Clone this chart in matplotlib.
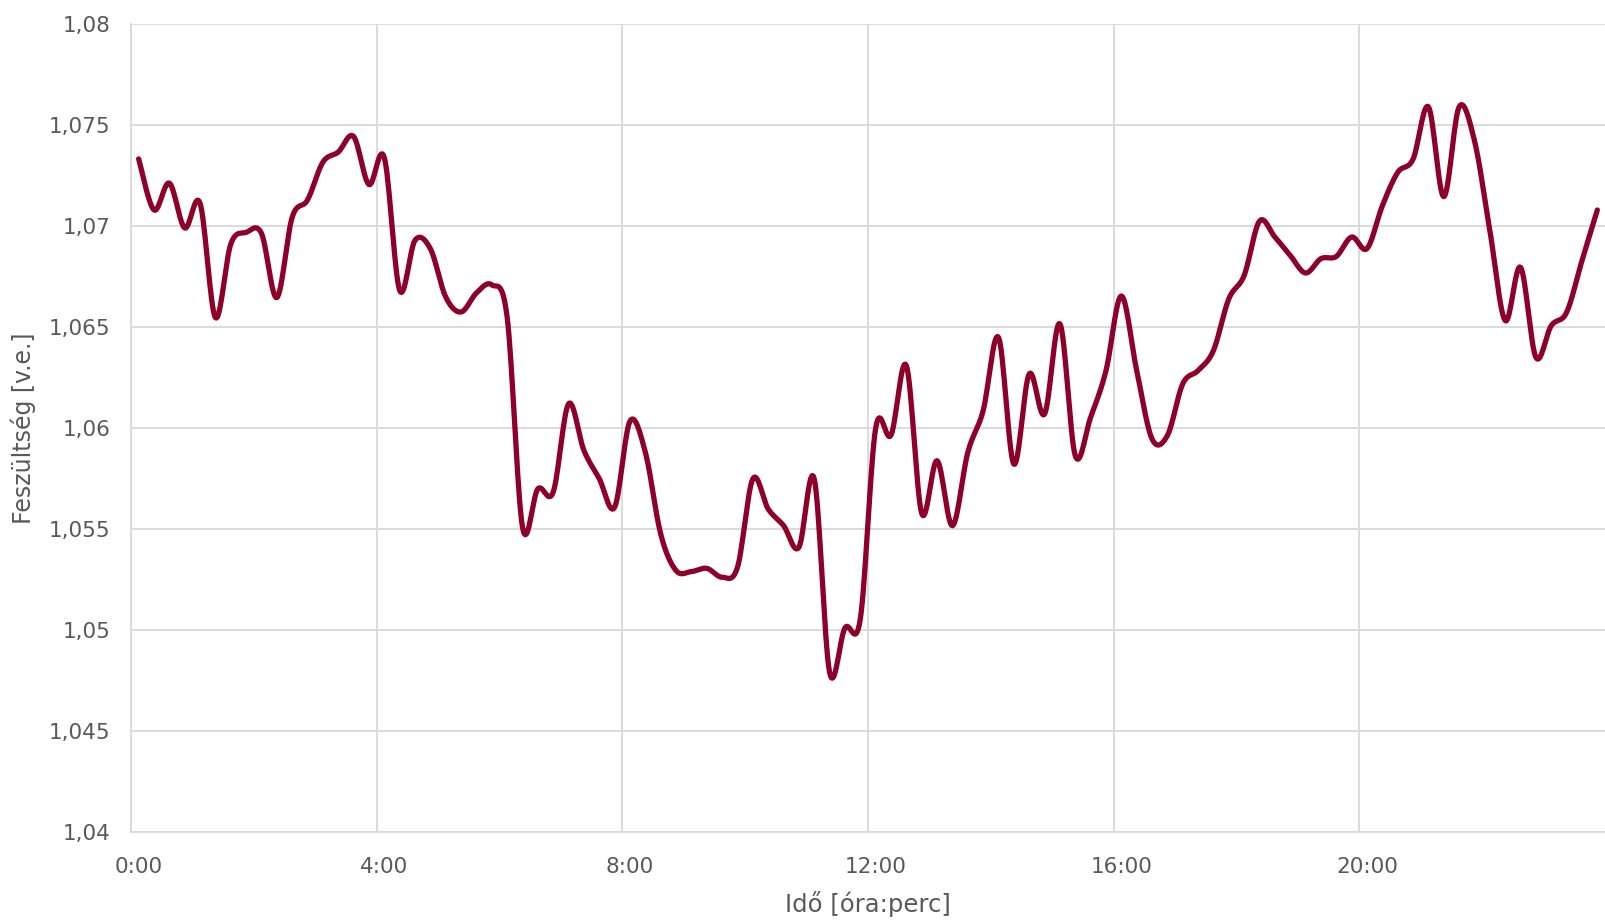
import numpy as np
import matplotlib
matplotlib.use("Agg")
import matplotlib.pyplot as plt

# feszültség 15 perces lépésekben (96 érték)
voltage = [
    1.07334, 1.07081, 1.07214, 1.06992, 1.07114, 1.06548, 1.06912, 1.06970,
    1.06965, 1.06647, 1.07045, 1.07131, 1.07318, 1.07368, 1.07445, 1.07207,
    1.07340, 1.06683, 1.06931, 1.06889, 1.06650, 1.06576, 1.06670, 1.06710,
    1.06550, 1.05510, 1.05700, 1.05684, 1.06121, 1.05890, 1.05750, 1.05609,
    1.06035, 1.05881, 1.05476, 1.05295, 1.05290, 1.05306, 1.05262, 1.05311,
    1.05749, 1.05600, 1.05518, 1.05410, 1.05749, 1.04791, 1.05011, 1.05055,
    1.06000, 1.05966, 1.06310, 1.05578, 1.05839, 1.05517, 1.05880, 1.06087,
    1.06450, 1.05822, 1.06269, 1.06070, 1.06517, 1.05864, 1.06054, 1.06285,
    1.06655, 1.06286, 1.05947, 1.05964, 1.06220, 1.06286, 1.06385, 1.06641,
    1.06757, 1.07026, 1.06947, 1.06856, 1.06769, 1.06840, 1.06851, 1.06947,
    1.06890, 1.07102, 1.07267, 1.07333, 1.07592, 1.07147, 1.07592, 1.07424,
    1.06979, 1.06533, 1.06797, 1.06351, 1.06508, 1.06574, 1.06830, 1.07081,
]

x_labels = ["0:00", "4:00", "8:00", "12:00", "16:00", "20:00"]
y_ticks = [1.04, 1.045, 1.05, 1.055, 1.06, 1.065, 1.07, 1.075, 1.08]
y_labels = ["1,04", "1,045", "1,05", "1,055", "1,06", "1,065", "1,07", "1,075", "1,08"]


def smooth(xs, ys, steps=16):
    # Catmull-Rom spline, like Excel's smoothed line
    xs = np.asarray(xs, float)
    ys = np.asarray(ys, float)
    px = np.concatenate([[xs[0]], xs, [xs[-1]]])
    py = np.concatenate([[ys[0]], ys, [ys[-1]]])
    t = np.linspace(0, 1, steps, endpoint=False)
    out_x, out_y = [], []
    for i in range(1, len(px) - 2):
        for p, out in ((px, out_x), (py, out_y)):
            p0, p1, p2, p3 = p[i - 1], p[i], p[i + 1], p[i + 2]
            out.extend(0.5 * (2 * p1 + (-p0 + p2) * t
                              + (2 * p0 - 5 * p1 + 4 * p2 - p3) * t ** 2
                              + (-p0 + 3 * p1 - 3 * p2 + p3) * t ** 3))
    out_x.append(xs[-1])
    out_y.append(ys[-1])
    return out_x, out_y


grid_col = "#d9d9d9"
text_col = "#595959"

fig = plt.figure(figsize=(16.05, 9.23), dpi=100)
ax = fig.add_axes([0.0816, 0.0986, 0.9184, 0.8749])

xpos = np.arange(len(voltage)) + 0.5
sx, sy = smooth(xpos, voltage)
ax.plot(sx, sy, color="#8e0029", linewidth=3.8, solid_capstyle="round", zorder=3)

ax.set_xlim(0, len(voltage))
ax.set_ylim(1.04, 1.08)

ax.set_yticks(y_ticks)
ax.set_yticklabels(y_labels)
ax.set_xticks(np.arange(0, len(voltage), 16) + 0.5)
ax.set_xticklabels(x_labels)
ax.set_xticks(np.arange(0, len(voltage), 16), minor=True)

ax.grid(axis="y", which="major", color=grid_col, linewidth=1.3)
ax.grid(axis="x", which="minor", color=grid_col, linewidth=1.3)
ax.tick_params(axis="both", which="both", length=0, labelsize=15.5, labelcolor=text_col)
ax.tick_params(axis="y", pad=15)
ax.tick_params(axis="x", pad=18)

for side in ["top", "right"]:
    ax.spines[side].set_visible(False)
for side in ["left", "bottom"]:
    ax.spines[side].set_color(grid_col)
    ax.spines[side].set_linewidth(1.3)

ax.set_xlabel("Idő [óra:perc]", fontsize=17.5, color=text_col, labelpad=10)
ax.set_ylabel("Feszültség [v.e.]", fontsize=17, color=text_col, labelpad=9)

fig.savefig("out.png", dpi=100)
